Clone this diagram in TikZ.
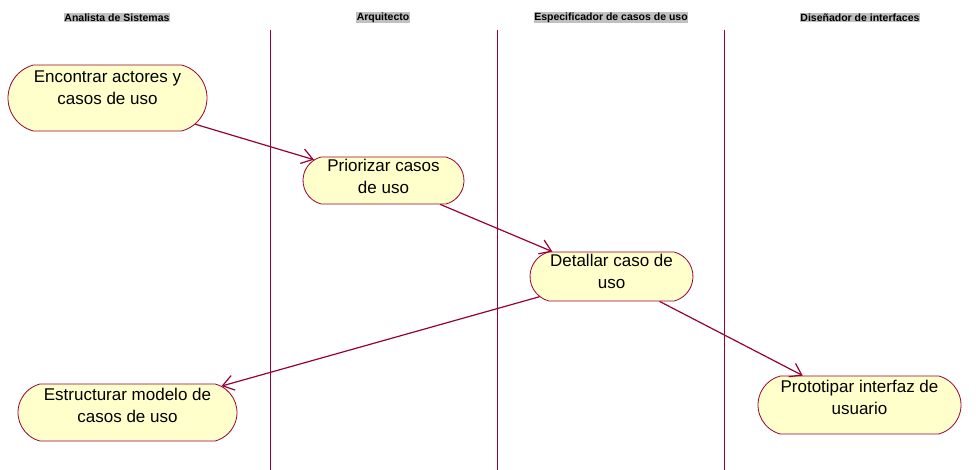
\documentclass[tikz,border=0pt]{standalone}
\usepackage{fontspec}
\setmainfont{Liberation Sans}
\usetikzlibrary{shapes.misc,arrows.meta}
\definecolor{rose}{RGB}{153,0,51}
\definecolor{actfill}{RGB}{255,255,204}
\definecolor{hdrgray}{RGB}{192,192,192}
\newcommand{\acttxt}[2]{\makebox[0pt]{\raisebox{#1}[0pt][0pt]{\fontsize{17}{22}\selectfont\begin{tabular}{@{}c@{}}#2\end{tabular}}}}
\tikzset{
  act/.style={rounded rectangle, rounded rectangle arc length=150, draw=rose, fill=actfill, line width=0.8pt, inner sep=0pt},
  hdr/.style={fill=hdrgray, inner sep=0.6pt, font=\fontsize{10.5}{12}\selectfont\bfseries},
  lane/.style={draw=rose, line width=1pt},
  flow/.style={draw=rose, line width=1.2pt, -{Straight Barb[length=11pt,width=15pt,line width=1.2pt]}}
}
\begin{document}
\begin{tikzpicture}[x=1pt,y=-1pt]
\useasboundingbox[fill=white] (0,0) rectangle (978,470);
% headers
\node[hdr] (h1) at (117,17.5) {Analista de Sistemas};
\node[hdr] (h2) at (383,17.5) {Arquitecto};
\node[hdr] (h3) at (611,17.5) {Especificador de casos de uso};
\node[hdr] (h4) at (860,17.5) {Diseñador de interfaces};
% lanes
\coordinate (l1t) at (270,30); \coordinate (l1b) at (270,470);
\coordinate (l2t) at (497,30); \coordinate (l2b) at (497,470);
\coordinate (l3t) at (724,30); \coordinate (l3b) at (724,470);
\draw[lane] (l1t) -- (l1b);
\draw[lane] (l2t) -- (l2b);
\draw[lane] (l3t) -- (l3b);
% activities
\node[act, minimum width=199pt, minimum height=66pt] (n1) at (107.5,98) {\acttxt{4.75pt}{Encontrar actores y\\casos de uso}};
\node[act, minimum width=161pt, minimum height=47pt] (n2) at (383.5,180.5) {\acttxt{-1.75pt}{Priorizar casos\\de uso}};
\node[act, minimum width=163pt, minimum height=49pt] (n3) at (611.5,276.5) {\acttxt{-0.75pt}{Detallar caso de\\uso}};
\node[act, minimum width=219pt, minimum height=57pt] (n4) at (127.5,412.5) {\acttxt{1.25pt}{Estructurar modelo de\\casos de uso}};
\node[act, minimum width=203pt, minimum height=58pt] (n5) at (859.5,405) {\acttxt{1.25pt}{Prototipar interfaz de\\usuario}};
% flows
\draw[flow] (n1) -- (n2);
\draw[flow] (n2) -- (n3);
\draw[flow] (n3) -- (n4);
\draw[flow] (n3) -- (n5);
\end{tikzpicture}
\end{document}
